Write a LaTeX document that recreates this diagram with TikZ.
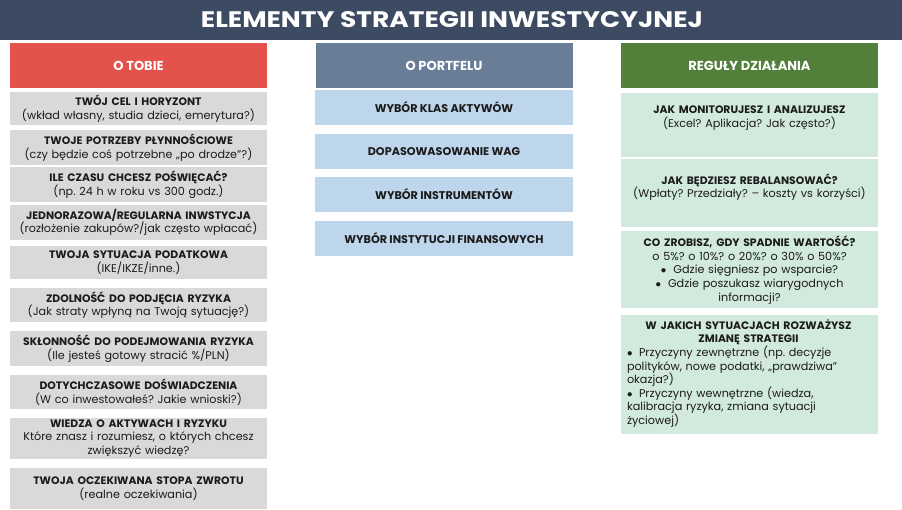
\documentclass[tikz,border=0pt]{standalone}
\usepackage{fontspec}
\setmainfont{Poppins}
\frenchspacing
\definecolor{navy}{HTML}{3C4A62}
\definecolor{hred}{HTML}{E3534B}
\definecolor{hslate}{HTML}{6A7D97}
\definecolor{hgreen}{HTML}{52803A}
\definecolor{bgray}{HTML}{D9D9D9}
\definecolor{bblue}{HTML}{BDD6EB}
\definecolor{bgreen}{HTML}{D2EADD}
\definecolor{ink}{HTML}{1B1B1B}
\newcommand{\ttl}[1]{{\fontsize{10.8}{13.5}\selectfont\bfseries #1}}
\begin{document}
\begin{tikzpicture}[x=1pt,y=-1pt,
  every node/.style={inner sep=0pt, outer sep=0pt},
  hdr/.style={fill=#1, minimum width=257pt, minimum height=45pt, text=white, font=\fontsize{13}{15}\selectfont\bfseries},
  lbox/.style={fill=bgray, minimum width=257pt, text width=257pt, align=center, text=ink, font=\fontsize{11.2}{13.5}\selectfont},
  mbox/.style={fill=bblue, minimum width=258pt, minimum height=35pt, text=ink, font=\fontsize{11.2}{13}\selectfont\bfseries},
  rbox/.style={fill=bgreen, minimum width=257pt},
  rtxt/.style={text width=257pt, align=center, text=ink, font=\fontsize{11.2}{13.6}\selectfont}
]
\useasboundingbox (0,0) rectangle (902,510);
\fill[white] (0,0) rectangle (902,510);
% title bar
\node[fill=navy, minimum width=902pt, minimum height=40pt, anchor=north west] (bar) at (0,0) {};
\node[text=white] (title) at (452,20) {\resizebox{502pt}{16pt}{\bfseries ELEMENTY STRATEGII INWESTYCYJNEJ}};
% headers
\node[hdr=hred] (h1) at (138.5,65.5) {O TOBIE};
\node[hdr=hslate] (h2) at (444,65.5) {O PORTFELU};
\node[hdr=hgreen] (h3) at (749.5,65.5) {REGUŁY DZIAŁANIA};
% left column
\node[lbox, minimum height=33pt] (l1) at (138.5,108.5) {\ttl{TWÓJ CEL I HORYZONT}\\(wkład własny, studia dzieci, emerytura?)};
\node[lbox, minimum height=35pt] (l2) at (138.5,147.5) {\ttl{TWOJE POTRZEBY PŁYNNOŚCIOWE}\\(czy będzie coś potrzebne „po drodze”?)};
\node[lbox, minimum height=35pt] (l3) at (138.5,184.5) {\ttl{ILE CZASU CHCESZ POŚWIĘCAĆ?}\\(np. 24 h w roku vs 300 godz.)};
\node[lbox, minimum height=35pt] (l4) at (138.5,222.5) {\ttl{JEDNORAZOWA/REGULARNA INWSTYCJA}\\(rozłożenie zakupów?/jak często wpłacać)};
\node[lbox, minimum height=33pt] (l5) at (138.5,262.5) {\ttl{TWOJA SYTUACJA PODATKOWA}\\(IKE/IKZE/inne.)};
\node[lbox, minimum height=34pt] (l6) at (138.5,305) {\ttl{ZDOLNOŚĆ DO PODJĘCIA RYZYKA}\\(Jak straty wpłyną na Twoją sytuację?)};
\node[lbox, minimum height=35pt] (l7) at (138.5,348.5) {\ttl{SKŁONNOŚĆ DO PODEJMOWANIA RYZYKA}\\(Ile jesteś gotowy stracić \%/PLN)};
\node[lbox, minimum height=34pt] (l8) at (138.5,392) {\ttl{DOTYCHCZASOWE DOŚWIADCZENIA}\\(W co inwestowałeś? Jakie wnioski?)};
\node[lbox, minimum height=41pt] (l9) at (138.5,438.5) {\ttl{WIEDZA O AKTYWACH I RYZYKU}\\Które znasz i rozumiesz, o których chcesz\\zwiększyć wiedzę?};
\node[lbox, minimum height=41pt] (l10) at (138.5,488.5) {\ttl{TWOJA OCZEKIWANA STOPA ZWROTU}\\(realne oczekiwania)};
% middle column
\node[mbox] (m1) at (444,107.5) {WYBÓR KLAS AKTYWÓW};
\node[mbox] (m2) at (444,151.5) {DOPASOWASOWANIE WAG};
\node[mbox] (m3) at (444,194.5) {WYBÓR INSTRUMENTÓW};
\node[mbox] (m4) at (444,238.5) {WYBÓR INSTYTUCJI FINANSOWYCH};
% right column
\node[rbox, minimum height=64pt] (r1) at (749.5,125) {};
\node[rtxt] (r1t) at (749.5,118) {\ttl{JAK MONITORUJESZ I ANALIZUJESZ}\\(Excel? Aplikacja? Jak często?)};
\node[rbox, minimum height=68pt] (r2) at (749.5,193) {};
\node[rtxt] (r2t) at (749.5,187) {\ttl{JAK BĘDZIESZ REBALANSOWAĆ?}\\(Wpłaty? Przedziały? – koszty vs korzyści)};
\node[rbox, minimum height=77pt] (r3) at (749.5,269.5) {};
\node[rtxt] (r3t) at (749.5,270) {\ttl{CO ZROBISZ, GDY SPADNIE WARTOŚĆ?}\\o 5\%? o 10\%? o 20\%? o 30\% o 50\%?\\$\bullet$\hspace{7pt}Gdzie sięgniesz po wsparcie?\\$\bullet$\hspace{7pt}Gdzie poszukasz wiarygodnych\\informacji?};
\node[rbox, minimum height=119pt] (r4) at (749.5,374.5) {};
\node[rtxt, align=left, text width=243pt, anchor=west] (r4t) at (627,373.5) {\centering\ttl{W JAKICH SYTUACJACH ROZWAŻYSZ}\\\ttl{ZMIANĘ STRATEGII}\par
\raggedright\hangindent=12pt\hangafter=1\makebox[12pt][l]{$\bullet$}Przyczyny zewnętrzne (np. decyzje\\polityków, nowe podatki, „prawdziwa”\\okazja?)\par
\hangindent=12pt\hangafter=1\makebox[12pt][l]{$\bullet$}Przyczyny wewnętrzne (wiedza,\\kalibracja ryzyka, zmiana sytuacji\\życiowej)\par};
\end{tikzpicture}
\end{document}
